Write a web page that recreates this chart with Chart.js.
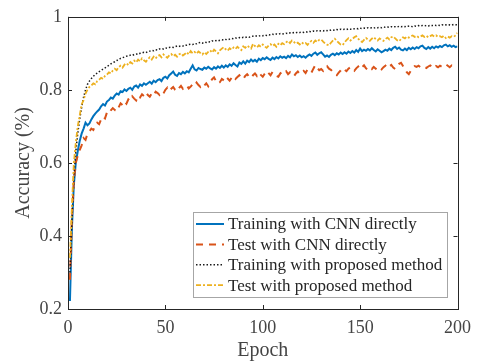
<!DOCTYPE html>
<html>
<head>
<meta charset="utf-8">
<script src="https://cdn.jsdelivr.net/npm/chart.js@4.4.1/dist/chart.umd.min.js"></script>
<style>
  html, body { margin: 0; padding: 0; background: #fff; }
  #wrap { width: 479px; height: 363px; }
</style>
</head>
<body>
<div id="wrap"><canvas id="accChart" width="479" height="363"></canvas></div>
<script>
// accuracy per epoch (epoch 1..200)
var trainCnn = [
  0.222, 0.420, 0.540, 0.600, 0.632, 0.660, 0.680, 0.694, 0.710, 0.703,
  0.708, 0.719, 0.728, 0.735, 0.741, 0.746, 0.755, 0.761, 0.757, 0.768,
  0.772, 0.779, 0.776, 0.784, 0.790, 0.787, 0.796, 0.794, 0.801, 0.797,
  0.803, 0.806, 0.800, 0.809, 0.812, 0.806, 0.815, 0.811, 0.818, 0.814,
  0.818, 0.822, 0.817, 0.825, 0.821, 0.827, 0.829, 0.824, 0.833, 0.836,
  0.831, 0.840, 0.845, 0.850, 0.841, 0.838, 0.846, 0.843, 0.849, 0.845,
  0.851, 0.848, 0.858, 0.867, 0.856, 0.853, 0.860, 0.857, 0.855, 0.861,
  0.858, 0.863, 0.859, 0.856, 0.862, 0.858, 0.864, 0.860, 0.866, 0.861,
  0.867, 0.863, 0.870, 0.866, 0.873, 0.868, 0.864, 0.875, 0.871, 0.878,
  0.872, 0.880, 0.876, 0.883, 0.878, 0.882, 0.877, 0.885, 0.881, 0.887,
  0.884, 0.889, 0.885, 0.882, 0.888, 0.884, 0.890, 0.886, 0.892, 0.888,
  0.891, 0.887, 0.893, 0.889, 0.897, 0.892, 0.895, 0.890, 0.894, 0.889,
  0.892, 0.888, 0.893, 0.897, 0.893, 0.899, 0.902, 0.896, 0.900, 0.903,
  0.897, 0.891, 0.894, 0.890, 0.896, 0.899, 0.895, 0.900, 0.897, 0.902,
  0.898, 0.903, 0.899, 0.905, 0.901, 0.906, 0.902, 0.909, 0.904, 0.913,
  0.906, 0.910, 0.907, 0.912, 0.908, 0.914, 0.909, 0.905, 0.911, 0.907,
  0.903, 0.906, 0.910, 0.907, 0.913, 0.909, 0.915, 0.918, 0.912, 0.916,
  0.910, 0.908, 0.913, 0.909, 0.915, 0.911, 0.916, 0.912, 0.917, 0.914,
  0.919, 0.921, 0.915, 0.912, 0.917, 0.913, 0.918, 0.914, 0.919, 0.916,
  0.920, 0.917, 0.922, 0.924, 0.919, 0.922, 0.918, 0.921, 0.917, 0.919
];
var testCnn = [
  0.280, 0.450, 0.550, 0.600, 0.620, 0.635, 0.648, 0.668, 0.663, 0.680,
  0.686, 0.694, 0.690, 0.703, 0.710, 0.706, 0.719, 0.727, 0.722, 0.738,
  0.735, 0.744, 0.750, 0.745, 0.756, 0.752, 0.763, 0.758, 0.768, 0.762,
  0.774, 0.770, 0.782, 0.776, 0.771, 0.784, 0.779, 0.788, 0.783, 0.793,
  0.786, 0.781, 0.790, 0.785, 0.795, 0.791, 0.786, 0.794, 0.790, 0.800,
  0.806, 0.797, 0.803, 0.808, 0.800, 0.796, 0.805, 0.811, 0.803, 0.808,
  0.812, 0.804, 0.809, 0.815, 0.811, 0.820, 0.813, 0.808, 0.816, 0.812,
  0.818, 0.810, 0.822, 0.829, 0.834, 0.824, 0.817, 0.821, 0.830, 0.826,
  0.836, 0.831, 0.825, 0.833, 0.838, 0.830, 0.835, 0.840, 0.834, 0.829,
  0.838, 0.843, 0.836, 0.832, 0.840, 0.845, 0.838, 0.847, 0.841, 0.836,
  0.844, 0.852, 0.846, 0.840, 0.849, 0.843, 0.838, 0.836, 0.845, 0.850,
  0.846, 0.851, 0.843, 0.848, 0.841, 0.837, 0.845, 0.850, 0.843, 0.848,
  0.852, 0.846, 0.856, 0.851, 0.847, 0.858, 0.868, 0.860, 0.854, 0.857,
  0.852, 0.861, 0.865, 0.858, 0.855, 0.849, 0.843, 0.840, 0.847, 0.853,
  0.860, 0.855, 0.851, 0.858, 0.862, 0.857, 0.852, 0.859, 0.864, 0.856,
  0.862, 0.867, 0.859, 0.855, 0.861, 0.857, 0.863, 0.858, 0.854, 0.860,
  0.856, 0.862, 0.866, 0.859, 0.864, 0.868, 0.861, 0.857, 0.866, 0.871,
  0.874, 0.865, 0.856, 0.848, 0.843, 0.852, 0.861, 0.865, 0.863, 0.866,
  0.862, 0.865, 0.863, 0.860, 0.864, 0.867, 0.862, 0.859, 0.865, 0.862,
  0.866, 0.863, 0.868, 0.870, 0.866, 0.862, 0.867, 0.864, 0.866, 0.865
];
var trainProp = [
  0.300, 0.440, 0.560, 0.630, 0.680, 0.720, 0.752, 0.780, 0.800, 0.815,
  0.824, 0.831, 0.837, 0.842, 0.846, 0.850, 0.853, 0.857, 0.860, 0.864,
  0.867, 0.871, 0.874, 0.877, 0.880, 0.884, 0.886, 0.888, 0.890, 0.892,
  0.893, 0.895, 0.894, 0.897, 0.898, 0.897, 0.900, 0.901, 0.903, 0.902,
  0.905, 0.906, 0.908, 0.907, 0.910, 0.909, 0.912, 0.913, 0.912, 0.915,
  0.914, 0.916, 0.917, 0.916, 0.918, 0.920, 0.919, 0.921, 0.920, 0.923,
  0.922, 0.924, 0.925, 0.924, 0.927, 0.926, 0.929, 0.930, 0.928, 0.931,
  0.930, 0.932, 0.931, 0.934, 0.933, 0.935, 0.934, 0.936, 0.937, 0.936,
  0.938, 0.937, 0.939, 0.941, 0.940, 0.942, 0.941, 0.943, 0.942, 0.944,
  0.943, 0.945, 0.944, 0.946, 0.947, 0.946, 0.948, 0.947, 0.949, 0.948,
  0.950, 0.949, 0.951, 0.950, 0.952, 0.951, 0.953, 0.952, 0.954, 0.953,
  0.954, 0.955, 0.954, 0.956, 0.955, 0.957, 0.956, 0.958, 0.957, 0.958,
  0.957, 0.959, 0.958, 0.960, 0.959, 0.961, 0.960, 0.962, 0.961, 0.962,
  0.961, 0.963, 0.962, 0.964, 0.963, 0.964, 0.963, 0.965, 0.964, 0.966,
  0.965, 0.966, 0.965, 0.967, 0.966, 0.968, 0.967, 0.968, 0.967, 0.969,
  0.968, 0.969, 0.968, 0.970, 0.969, 0.970, 0.969, 0.971, 0.970, 0.971,
  0.970, 0.972, 0.971, 0.972, 0.971, 0.973, 0.972, 0.973, 0.972, 0.974,
  0.973, 0.974, 0.973, 0.975, 0.974, 0.974, 0.973, 0.975, 0.974, 0.976,
  0.975, 0.976, 0.975, 0.976, 0.975, 0.977, 0.976, 0.977, 0.976, 0.977,
  0.976, 0.978, 0.977, 0.978, 0.977, 0.978, 0.977, 0.979, 0.978, 0.978
];
var testProp = [
  0.340, 0.480, 0.600, 0.655, 0.700, 0.730, 0.760, 0.772, 0.790, 0.800,
  0.808, 0.812, 0.818, 0.815, 0.824, 0.828, 0.833, 0.830, 0.838, 0.842,
  0.848, 0.845, 0.853, 0.858, 0.854, 0.862, 0.866, 0.861, 0.869, 0.873,
  0.868, 0.876, 0.872, 0.880, 0.875, 0.883, 0.878, 0.886, 0.881, 0.877,
  0.884, 0.889, 0.883, 0.891, 0.886, 0.893, 0.895, 0.889, 0.897, 0.892,
  0.888, 0.894, 0.898, 0.892, 0.896, 0.891, 0.897, 0.900, 0.894, 0.898,
  0.903, 0.897, 0.906, 0.900, 0.904, 0.899, 0.905, 0.901, 0.897, 0.903,
  0.898, 0.904, 0.908, 0.902, 0.910, 0.905, 0.900, 0.908, 0.913, 0.917,
  0.911, 0.907, 0.914, 0.910, 0.916, 0.912, 0.918, 0.913, 0.909, 0.919,
  0.915, 0.921, 0.917, 0.913, 0.926, 0.920, 0.916, 0.922, 0.918, 0.924,
  0.919, 0.915, 0.921, 0.925, 0.920, 0.924, 0.918, 0.926, 0.922, 0.928,
  0.925, 0.930, 0.934, 0.928, 0.935, 0.931, 0.926, 0.929, 0.924, 0.930,
  0.926, 0.928, 0.923, 0.930, 0.934, 0.929, 0.935, 0.931, 0.937, 0.938,
  0.932, 0.927, 0.924, 0.922, 0.929, 0.935, 0.940, 0.934, 0.929, 0.924,
  0.922, 0.930, 0.936, 0.941, 0.935, 0.939, 0.944, 0.947, 0.940, 0.934,
  0.931, 0.937, 0.942, 0.938, 0.934, 0.940, 0.944, 0.939, 0.935, 0.941,
  0.937, 0.934, 0.939, 0.943, 0.938, 0.944, 0.946, 0.941, 0.936, 0.933,
  0.939, 0.944, 0.941, 0.946, 0.943, 0.947, 0.949, 0.945, 0.948, 0.944,
  0.946, 0.949, 0.945, 0.948, 0.944, 0.947, 0.950, 0.946, 0.949, 0.945,
  0.947, 0.944, 0.948, 0.942, 0.946, 0.943, 0.947, 0.945, 0.949, 0.956
];
var seriesNames = [
  "Training with CNN directly",
  "Test with CNN directly",
  "Training with proposed method",
  "Test with proposed method"
];
var xTicks = [0, 50, 100, 150, 200];
var yTicks = [0.2, 0.4, 0.6, 0.8, 1];

var serif = "'Liberation Serif', 'Times New Roman', serif";
var axisColor = "#262626";
var textColor = "#454545";

//turn a list of accuracies into points for the linear x scale
function toPoints(arr) {
  return arr.map(function (v, i) { return { x: i + 1, y: v }; });
}

//box, inner ticks and the legend are drawn by hand, matlab style
var matlabFrame = {
  id: "matlabFrame",
  afterDraw: function (chart) {
    var ctx = chart.ctx;
    var a = chart.chartArea;
    var xs = chart.scales.x, ys = chart.scales.y;
    var tl = 4;
    ctx.save();
    ctx.strokeStyle = axisColor;
    ctx.lineWidth = 1;
    ctx.strokeRect(Math.round(a.left) + 0.5, Math.round(a.top) + 0.5,
      Math.round(a.right - a.left), Math.round(a.bottom - a.top));
    ctx.beginPath();
    xTicks.forEach(function (t) {
      var px = Math.round(xs.getPixelForValue(t)) + 0.5;
      ctx.moveTo(px, a.bottom); ctx.lineTo(px, a.bottom - tl);
      ctx.moveTo(px, a.top); ctx.lineTo(px, a.top + tl);
    });
    yTicks.forEach(function (t) {
      var py = Math.round(ys.getPixelForValue(t)) + 0.5;
      ctx.moveTo(a.left, py); ctx.lineTo(a.left + tl, py);
      ctx.moveTo(a.right, py); ctx.lineTo(a.right - tl, py);
    });
    ctx.stroke();

    //legend
    var bx = 193.5, by = 212.5, bw = 254, bh = 85;
    ctx.fillStyle = "#fff";
    ctx.fillRect(bx, by, bw, bh);
    ctx.strokeStyle = "#a6a6a6";
    ctx.strokeRect(bx, by, bw, bh);
    ctx.font = "17px " + serif;
    ctx.textBaseline = "middle";
    ctx.textAlign = "left";
    chart.data.datasets.forEach(function (ds, i) {
      var cy = 224 + i * 20.4;
      ctx.strokeStyle = ds.borderColor;
      ctx.lineWidth = ds.borderWidth;
      ctx.setLineDash(ds.borderDash || []);
      ctx.beginPath();
      ctx.moveTo(196, cy);
      ctx.lineTo(224, cy);
      ctx.stroke();
      ctx.setLineDash([]);
      ctx.fillStyle = axisColor;
      ctx.fillText(ds.label, 228, cy + 1);
    });
    ctx.restore();
  }
};

var ctx = document.getElementById("accChart").getContext("2d");
new Chart(ctx, {
  type: "line",
  data: {
    datasets: [{
      label: seriesNames[0],
      data: toPoints(trainCnn),
      borderColor: "#0072BD",
      borderWidth: 2,
      order: 4
    }, {
      label: seriesNames[1],
      data: toPoints(testCnn),
      borderColor: "#D95319",
      borderWidth: 2,
      borderDash: [7, 6],
      order: 3
    }, {
      label: seriesNames[2],
      data: toPoints(trainProp),
      borderColor: "#1a1a1a",
      borderWidth: 1.5,
      borderDash: [1.5, 2],
      order: 2
    }, {
      label: seriesNames[3],
      data: toPoints(testProp),
      borderColor: "#EDB120",
      borderWidth: 1.8,
      borderDash: [5, 2, 2, 2],
      order: 1
    }]
  },
  options: {
    responsive: false,
    animation: false,
    events: [],
    layout: { padding: { left: 0, top: 11, right: 20, bottom: 0 } },
    elements: {
      point: { radius: 0 },
      line: { tension: 0, fill: false }
    },
    plugins: {
      legend: { display: false },
      tooltip: { enabled: false }
    },
    scales: {
      x: {
        type: "linear",
        min: 0,
        max: 200,
        afterFit: function (s) { s.height = 54; },
        afterBuildTicks: function (s) {
          s.ticks = xTicks.map(function (v) { return { value: v }; });
        },
        grid: { display: false, drawTicks: false },
        border: { display: false },
        ticks: {
          padding: 8,
          color: textColor,
          font: { family: serif, size: 18 },
          maxRotation: 0
        },
        title: {
          display: true,
          text: "Epoch",
          color: textColor,
          font: { family: serif, size: 20 },
          padding: { top: 0, bottom: 0 }
        }
      },
      y: {
        min: 0.2,
        max: 1,
        afterFit: function (s) { s.width = 68; },
        afterBuildTicks: function (s) {
          s.ticks = yTicks.map(function (v) { return { value: v }; });
        },
        grid: { display: false, drawTicks: false },
        border: { display: false },
        ticks: {
          padding: 6,
          color: textColor,
          font: { family: serif, size: 18 },
          callback: function (v) { return String(Number(v.toFixed(1))); }
        },
        title: {
          display: true,
          text: "Accuracy (%)",
          color: textColor,
          font: { family: serif, size: 20 },
          padding: { top: 12, bottom: 0 }
        }
      }
    }
  },
  plugins: [matlabFrame]
});
</script>
</body>
</html>
